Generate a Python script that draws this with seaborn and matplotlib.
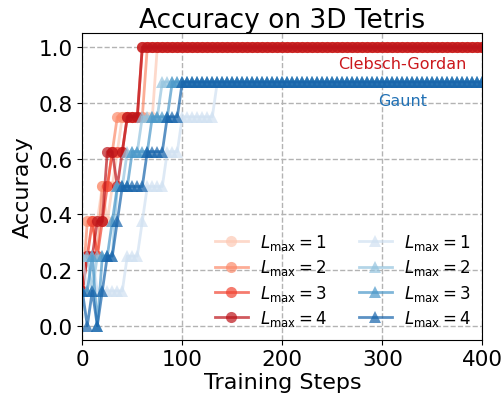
import numpy as np
import pandas as pd
import matplotlib
matplotlib.use("Agg")
import matplotlib.pyplot as plt
import seaborn as sns

# ---------------- data ----------------
steps = list(range(0, 401, 5))          # evaluation every 5 training steps

# early (transient) values; afterwards each run stays on its plateau
cg_early = {
    1: [0.125, 0.25, 0.375, 0.375, 0.5, 0.375, 0.5, 0.625, 0.75, 0.75, 0.75, 0.75, 0.75, 0.75, 0.75],
    2: [0.125, 0.375, 0.375, 0.25, 0.5, 0.5, 0.625, 0.75, 0.75, 0.75, 0.75, 0.75, 0.75],
    3: [0.125, 0.25, 0.375, 0.25, 0.375, 0.5, 0.625, 0.625, 0.625, 0.75, 0.75, 0.75],
    4: [0.125, 0.25, 0.25, 0.375, 0.375, 0.625, 0.625, 0.5, 0.625, 0.75, 0.75, 0.75],
}
cg_plateau = {1: 1.0, 2: 1.0, 3: 1.0, 4: 1.0}

gaunt_early = {
    1: [0.25, 0.125, 0.25, 0.125, 0.125, 0.125, 0.125, 0.125, 0.125, 0.25, 0.25, 0.25, 0.375, 0.5,
        0.5, 0.5, 0.5, 0.625, 0.625, 0.625, 0.75, 0.75, 0.75, 0.75, 0.75, 0.75, 0.75],
    2: [0.25, 0.25, 0.125, 0.25, 0.25, 0.25, 0.25, 0.5, 0.5, 0.625, 0.625, 0.625, 0.75, 0.75, 0.75, 0.75],
    3: [0.125, 0.125, 0.25, 0.0, 0.25, 0.25, 0.375, 0.5, 0.5, 0.5, 0.625, 0.625, 0.625, 0.625,
        0.75, 0.75, 0.75, 0.75],
    4: [0.125, 0.0, 0.125, 0.0, 0.125, 0.25, 0.25, 0.375, 0.5, 0.5, 0.5, 0.5, 0.5, 0.625, 0.625,
        0.625, 0.625, 0.75, 0.75, 0.75],
}
gaunt_plateau = {1: 0.875, 2: 0.875, 3: 0.875, 4: 0.875}

lmax_values = [1, 2, 3, 4]
title = "Accuracy on 3D Tetris"
xlabel = "Training Steps"
ylabel = "Accuracy"


def full_series(early, plateau):
    return early + [plateau] * (len(steps) - len(early))


# ---------------- plot ----------------
fig = plt.figure(figsize=(5.04, 4.02), dpi=100)
ax = fig.add_axes([0.1633, 0.1525, 0.7937, 0.7622])

reds = [plt.cm.Reds(v) for v in [0.2, 0.4, 0.6, 0.8]]
blues = [plt.cm.Blues(v) for v in [0.2, 0.4, 0.6, 0.8]]

for i, L in enumerate(lmax_values):
    sns.lineplot(x=steps, y=full_series(cg_early[L], cg_plateau[L]), ax=ax,
                 color=reds[i], marker="o", markersize=8, markeredgewidth=0,
                 linewidth=2, alpha=0.7, label=rf"$L_{{\max}} = {L}$")
for i, L in enumerate(lmax_values):
    sns.lineplot(x=steps, y=full_series(gaunt_early[L], gaunt_plateau[L]), ax=ax,
                 color=blues[i], marker="^", markersize=8, markeredgewidth=0,
                 linewidth=2, alpha=0.7, label=rf"$L_{{\max}} = {L}$")

ax.text(320, 0.942, "Clebsch-Gordan", color="#cb181d", fontsize=11.5,
        ha="center", va="center")
ax.text(320, 0.809, "Gaunt", color="#2171b5", fontsize=11.5,
        ha="center", va="center")

ax.set_xlim(0, 400)
ax.set_ylim(-0.05, 1.05)
ax.set_xticks([0, 100, 200, 300, 400])
ax.set_yticks([0.0, 0.2, 0.4, 0.6, 0.8, 1.0])
ax.grid(True, linestyle="--", color="0.7", linewidth=1)
ax.set_axisbelow(True)
ax.tick_params(labelsize=15.5)
ax.set_xlabel(xlabel, fontsize=16, labelpad=2)
ax.set_ylabel(ylabel, fontsize=16, labelpad=4)
ax.set_title(title, fontsize=19, pad=4)

ax.legend(ncol=2, frameon=False, fontsize=12, loc="lower right",
          handlelength=2.0, columnspacing=1.9, labelspacing=0.32,
          borderaxespad=0.3, handletextpad=0.7)

fig.savefig("out.png", dpi=100)
